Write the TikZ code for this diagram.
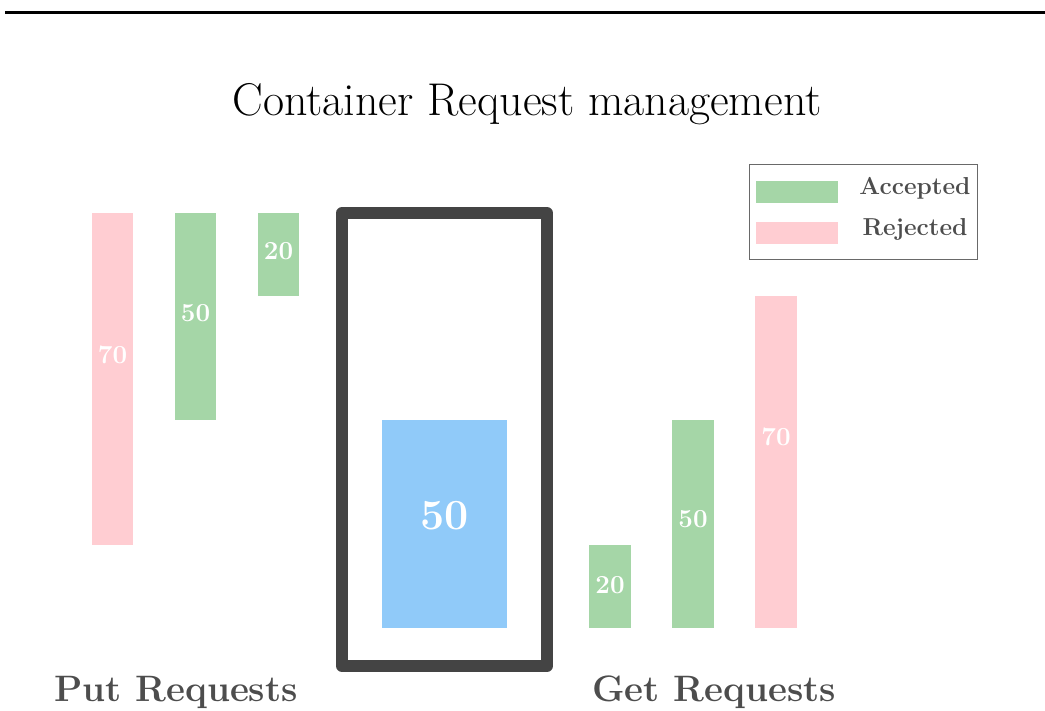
\documentclass[tikz,border=0pt]{standalone}
\usepackage{fontspec}
\definecolor{rej}{HTML}{FFCDD2}
\definecolor{acc}{HTML}{A5D6A7}
\definecolor{blu}{HTML}{90CAF9}
\definecolor{dk}{HTML}{444444}
\definecolor{txt}{HTML}{4D4D4D}
\tikzset{
  barlbl/.style={text=white, font=\fontsize{26}{26}\selectfont\bfseries},
  grp/.style={text=txt, font=\fontsize{36.8}{36.8}\selectfont\bfseries},
  leg/.style={text=txt, font=\fontsize{24.5}{24.5}\selectfont\bfseries},
}
\begin{document}
\begin{tikzpicture}[x=1pt,y=-1pt]
\useasboundingbox (0,0) rectangle (1045,711);
% top rule
\draw[line width=3pt] (5,13) -- (1045,13);
% title
\node (title) at (527,104) {\fontsize{45.9}{45.9}\selectfont Container Request management};
% put bars
\fill[rej] (92,213) rectangle (133,545);
\node[barlbl] (p70) at (112.5,355) {70};
\fill[acc] (175,213) rectangle (216,420);
\node[barlbl] (p50) at (195.5,313) {50};
\fill[acc] (258,213) rectangle (299,296);
\node[barlbl] (p20) at (278.5,251) {20};
% container
\draw[dk, line width=12pt, line join=round] (342,213) rectangle (547,666);
\fill[blu] (382,420) rectangle (507,628);
\node[text=white, font=\fontsize{43}{43}\selectfont\bfseries] (c50) at (444.5,516) {50};
% get bars
\fill[acc] (589,545) rectangle (631,628);
\node[barlbl] (g20) at (610,585) {20};
\fill[acc] (672,420) rectangle (714,628);
\node[barlbl] (g50) at (693,519) {50};
\fill[rej] (755,296) rectangle (797,628);
\node[barlbl] (g70) at (776,437) {70};
% labels
\node[grp] (put) at (176,692) {Put Requests};
\node[grp] (get) at (714,692) {Get Requests};
% legend
\draw[dk!80, line width=1pt] (749,165) rectangle (977,260);
\fill[acc] (756,181) rectangle (838,203);
\fill[rej] (756,222) rectangle (838,244);
\node[leg] (la) at (915,188) {Accepted};
\node[leg] (lr) at (915,229) {Rejected};
\end{tikzpicture}
\end{document}
